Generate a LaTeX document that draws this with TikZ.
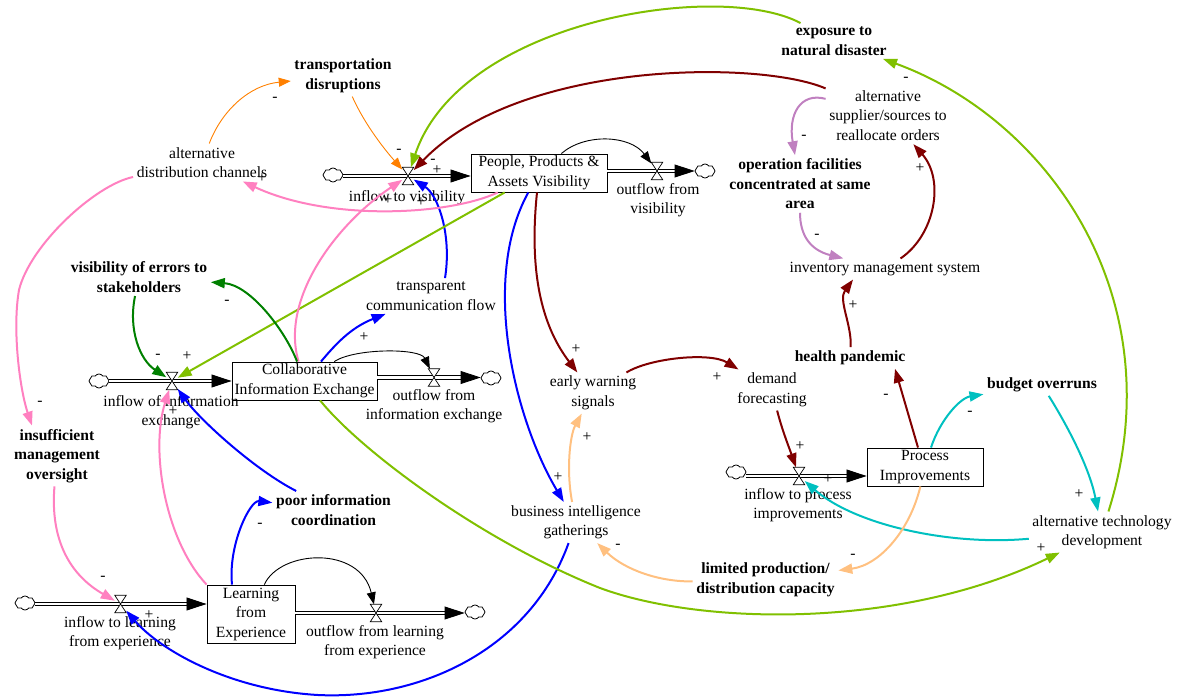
\documentclass[tikz,border=0pt]{standalone}
\usepackage{fontspec}
\setmainfont{Liberation Serif}
\usetikzlibrary{arrows.meta,shapes.symbols}

\newcommand\dgmfont{\fontsize{15.6}{19.5}\selectfont}

\definecolor{cOrange}{RGB}{255,128,0}
\definecolor{cLime}{RGB}{128,192,0}
\definecolor{cMaroon}{RGB}{128,0,0}
\definecolor{cPink}{RGB}{255,128,192}
\definecolor{cBlue}{RGB}{0,0,255}
\definecolor{cDkGreen}{RGB}{0,128,0}
\definecolor{cLav}{RGB}{192,128,192}
\definecolor{cPeach}{RGB}{255,192,128}
\definecolor{cCyan}{RGB}{0,192,192}

\tikzset{
  var/.style={align=center, inner sep=3.5pt, font=\dgmfont},
  keyvar/.style={var, font=\dgmfont\bfseries},
  stock/.style={draw, line width=0.9pt, align=center, inner sep=1pt, font=\dgmfont},
  valve/.style={inner sep=0pt, minimum width=11pt, minimum height=17pt},
  valveshape/.style={draw, fill=white, line width=0.7pt},
  src/.style={cloud, cloud puffs=8, cloud puff arc=110, aspect=1.5, draw, line width=0.8pt,
              minimum width=20pt, minimum height=14pt, inner sep=0pt},
  pipe/.style={double, double distance=2.4pt, line width=0.9pt},
  pipetip/.style={-{Triangle[length=20pt,width=13pt]}, line width=0.8pt},
  link/.style={line width=2pt, -{Triangle[length=14pt,width=10pt]}},
  thinlink/.style={line width=0.9pt, -{Triangle[length=12pt,width=9pt]}},
  polsign/.style={font=\dgmfont, inner sep=0pt},
}

\begin{document}
\begin{tikzpicture}[x=1pt,y=-1pt]
\useasboundingbox (0,0) rectangle (1188,700);

% ---- auxiliary variables ----
\node[keyvar] (trans) at (343,76) {transportation\\disruptions};
\node[keyvar] (expo) at (834,41) {exposure to\\natural disaster};
\node[var] (altsup) at (888,115.5) {alternative\\supplier/sources to\\reallocate orders};
\node[keyvar] (opfac) at (800,184) {operation facilities\\concentrated at same\\area};
\node[var] (altdist) at (202,162.5) {alternative\\distribution channels};
\node[var] (invms) at (885,269) {inventory management system};
\node[keyvar] (viserr) at (139,277) {visibility of errors to\\stakeholders};
\node[var] (transp) at (431,296) {transparent\\communication flow};
\node[var] (early) at (593,393) {early warning\\signals};
\node[var] (demand) at (772,390) {demand\\forecasting};
\node[keyvar] (health) at (850,358) {health pandemic};
\node[keyvar] (budget) at (1042,385) {budget overruns};
\node[keyvar] (insuff) at (57,456) {insufficient\\management\\oversight};
\node[keyvar] (poor) at (333.5,510) {poor information\\coordination};
\node[var] (bi) at (576,522.5) {business intelligence\\gatherings};
\node[var] (alttech) at (1102,532) {alternative technology\\development};
\node[keyvar] (limited) at (765.5,580) {limited production/\\distribution capacity};

% ---- flow labels ----
\node[var] (lvisin) at (407,198) {inflow to visibility};
\node[var] (lvisout) at (658,200) {outflow from\\visibility};
\node[var] (linfoin) at (171,412) {inflow of information\\exchange};
\node[var] (linfoout) at (434,406) {outflow from\\information exchange};
\node[var] (lprocin) at (798,505) {inflow to process\\improvements};
\node[var] (llearnin) at (120,633) {inflow to learning\\from experience};
\node[var] (llearnout) at (375,642) {outflow from learning\\from experience};

% ---- stocks ----
\node[stock, minimum width=136pt, minimum height=38pt] (vis) at (539,173) {People, Products \&\\Assets Visibility};
\node[stock, minimum width=145pt, minimum height=38pt] (cie) at (304.5,381) {Collaborative\\Information Exchange};
\node[stock, minimum width=116pt, minimum height=38pt] (proc) at (925,467) {Process\\Improvements};
\node[stock, minimum width=88pt, minimum height=58pt] (learn) at (251,614) {Learning\\from\\Experience};

% ---- valves ----
\node[valve] (vvisin) at (408,176) {};
\node[valve] (vvisout) at (657,171) {};
\node[valve] (vinfoin) at (172,381) {};
\node[valve] (vinfoout) at (434,377.5) {};
\node[valve] (vprocin) at (799,476) {};
\node[valve] (vlearnin) at (120.5,604) {};
\node[valve] (vlearnout) at (376,613) {};

% ---- sources and sinks ----
\node[src] (cvisin) at (333,175) {};
\node[src] (cvisout) at (705,171) {};
\node[src] (cinfoin) at (99,381) {};
\node[src] (cinfoout) at (491,378) {};
\node[src] (cprocin) at (736,472) {};
\node[src] (clearnin) at (25,603) {};
\node[src] (clearnout) at (475,612) {};

% ---- pipes ----
\draw[pipe, shorten >=18pt] (cvisin.east |- vvisin) -- (vis.west |- vvisin);
\draw[pipetip] ([xshift=-20pt]vis.west |- vvisin) -- (vis.west |- vvisin);
\draw[pipe, shorten >=18pt] (vis.east |- vvisout) -- (cvisout.west |- vvisout);
\draw[pipetip] ([xshift=-20pt]cvisout.west |- vvisout) -- (cvisout.west |- vvisout);

\draw[pipe, shorten >=18pt] (cinfoin.east |- vinfoin) -- (cie.west |- vinfoin);
\draw[pipetip] ([xshift=-20pt]cie.west |- vinfoin) -- (cie.west |- vinfoin);
\draw[pipe, shorten >=18pt] (cie.east |- vinfoout) -- (cinfoout.west |- vinfoout);
\draw[pipetip] ([xshift=-20pt]cinfoout.west |- vinfoout) -- (cinfoout.west |- vinfoout);

\draw[pipe, shorten >=18pt] (cprocin.east |- vprocin) -- (proc.west |- vprocin);
\draw[pipetip] ([xshift=-20pt]proc.west |- vprocin) -- (proc.west |- vprocin);

\draw[pipe, shorten >=18pt] (clearnin.east |- vlearnin) -- (learn.west |- vlearnin);
\draw[pipetip] ([xshift=-20pt]learn.west |- vlearnin) -- (learn.west |- vlearnin);
\draw[pipe, shorten >=18pt] (learn.east |- vlearnout) -- (clearnout.west |- vlearnout);
\draw[pipetip] ([xshift=-20pt]clearnout.west |- vlearnout) -- (clearnout.west |- vlearnout);

\foreach \v in {vvisin,vvisout,vinfoin,vinfoout,vprocin,vlearnin,vlearnout}
  \draw[valveshape] (\v.north west) -- (\v.north east) -- (\v.south west) -- (\v.south east) -- cycle;

% ---- causal links ----
\draw[thinlink, cOrange] (altdist) .. controls (222,110) and (250,85) .. (trans);
\draw[thinlink, cOrange] (trans) .. controls (365,125) and (385,150) .. (vvisin);
\draw[link, cLime] (expo) .. controls (720,-20) and (460,20) .. (vvisin);
\draw[link, cMaroon] (altsup) .. controls (760,60) and (520,60) .. (vvisin);
\draw[link, cLime] (alttech) .. controls (1175,300) and (1050,120) .. (expo);
\draw[link, cLav] (altsup) .. controls (800,92) and (788,115) .. (opfac);
\draw[link, cLav] (opfac) .. controls (800,235) and (810,250) .. (invms);
\draw[link, cMaroon] (invms) .. controls (935,235) and (945,180) .. (altsup);
\draw[link, cMaroon] (health) .. controls (852,325) and (838,300) .. ([xshift=-32pt]invms.south);
\draw[link, cMaroon] ([xshift=-7pt]proc.north) -- ([xshift=45pt]health.south);
\draw[link, cCyan] ([xshift=6pt]proc.north) .. controls (940,420) and (960,398) .. (budget);
\draw[link, cCyan] (budget) .. controls (1070,430) and (1090,470) .. (alttech);
\draw[link, cCyan] (alttech) .. controls (950,546) and (855,525) .. (vprocin);
\draw[link, cPeach] (proc) .. controls (910,530) and (880,565) .. (limited);
\draw[link, cPeach] (limited) .. controls (660,582) and (625,570) .. (bi);
\draw[link, cPeach] (bi) .. controls (566,470) and (570,435) .. (early);
\draw[link, cMaroon] (early) .. controls (650,358) and (710,352) .. (demand);
\draw[link, cMaroon] (demand) .. controls (782,430) and (790,450) .. (vprocin);
\draw[link, cMaroon] (vis) .. controls (528,280) and (545,330) .. (early);
\draw[link, cBlue] (vis) .. controls (480,280) and (515,420) .. (bi);
\draw[link, cBlue] ([xshift=14pt]transp.north) .. controls (452,235) and (438,195) .. (vvisin);
\draw[link, cBlue] (cie) .. controls (335,345) and (350,328) .. (transp);
\draw[link, cBlue] ([xshift=-19pt]learn.north) .. controls (228,545) and (250,500) .. (poor);
\draw[link, cBlue] (poor) .. controls (255,470) and (200,420) .. (vinfoin);
\draw[link, cBlue] (bi) .. controls (530,650) and (420,700) .. (318,695)
                        .. controls (230,690) and (160,650) .. (vlearnin);
\draw[link, cLime] (vis) -- (vinfoin);
\draw[link, cLime] (cie) .. controls (360,450) and (480,540) .. (600,588)
                         .. controls (700,625) and (900,630) .. (alttech);
\draw[link, cPink] (vis) .. controls (450,215) and (330,222) .. (altdist);
\draw[link, cPink] (cie) .. controls (280,300) and (335,225) .. (vvisin);
\draw[link, cPink] (altdist) .. controls (95,185) and (30,245) .. (19,290)
                             .. controls (12,330) and (20,390) .. ([xshift=-25pt]insuff.north);
\draw[link, cPink] (insuff) .. controls (50,540) and (70,575) .. (vlearnin);
\draw[link, cPink] (learn.north west) .. controls (165,540) and (150,450) .. (vinfoin);
\draw[link, cDkGreen] (viserr) .. controls (128,330) and (140,360) .. (vinfoin);
\draw[link, cDkGreen] (cie) .. controls (285,330) and (250,285) .. (viserr);
\draw[thinlink] (vis) .. controls (585,133) and (630,135) .. (vvisout);
\draw[thinlink] (cie) .. controls (355,348) and (420,348) .. (vinfoout);
\draw[thinlink] (learn) .. controls (280,550) and (360,545) .. (vlearnout);

% ---- link polarities ----
\node[polsign] (p1) at (275,99) {-};
\node[polsign] (p2) at (399,151) {-};
\node[polsign] (p3) at (433,161) {-};
\node[polsign] (p4) at (437,170) {+};
\node[polsign] (p5) at (906,79) {-};
\node[polsign] (p6) at (804,137) {-};
\node[polsign] (p7) at (817,236) {-};
\node[polsign] (p8) at (920,168) {+};
\node[polsign] (p9) at (853,305) {+};
\node[polsign] (p10) at (886,396) {-};
\node[polsign] (p11) at (970,413) {-};
\node[polsign] (p12) at (1079,494) {+};
\node[polsign] (p13) at (828,479) {+};
\node[polsign] (p14) at (1041,548) {+};
\node[polsign] (p15) at (853,556) {-};
\node[polsign] (p16) at (618,546) {-};
\node[polsign] (p17) at (587,437) {+};
\node[polsign] (p18) at (717,377) {+};
\node[polsign] (p19) at (800,446) {+};
\node[polsign] (p20) at (576,349) {+};
\node[polsign] (p21) at (558,477) {+};
\node[polsign] (p22) at (421,202) {+};
\node[polsign] (p23) at (388,200) {+};
\node[polsign] (p24) at (364,337) {+};
\node[polsign] (p25) at (260,525) {-};
\node[polsign] (p26) at (173,411) {+};
\node[polsign] (p27) at (149,615) {+};
\node[polsign] (p28) at (187,356) {+};
\node[polsign] (p29) at (158,356) {-};
\node[polsign] (p30) at (227,302) {-};
\node[polsign] (p31) at (40,403) {-};
\node[polsign] (p32) at (103,578) {-};
\node[polsign] (p33) at (262,178) {+};
\end{tikzpicture}
\end{document}
